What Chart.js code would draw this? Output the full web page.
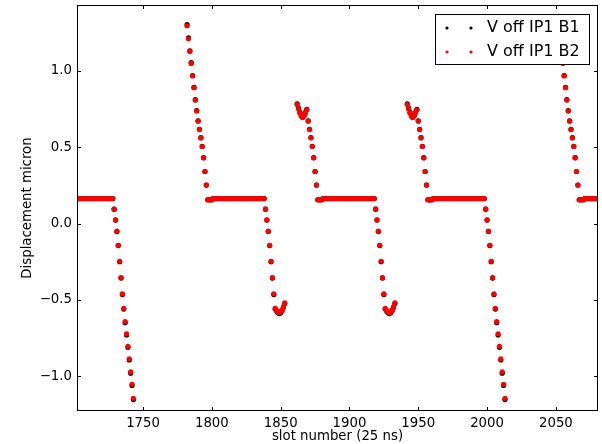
<!DOCTYPE html>
<html lang="en">

<head>
    <meta charset="UTF-8">
    <title>V offset IP1</title>
    <script src="https://cdn.jsdelivr.net/npm/chart.js"></script>
    <style>
        body {
            margin: 0;
            background: #fff;
        }
    </style>
</head>

<body>
    <canvas id="chart" width="602" height="444"></canvas>

    <script>
        // readings (micron) along the bunch trains
        const peakB2 = [1.296, 1.211, 1.128, 1.049, 0.967, 0.890, 0.809, 0.737, 0.671, 0.616, 0.562, 0.505, 0.431, 0.341, 0.252];
        const peakB1 = [1.303, 1.217, 1.132, 1.054, 0.970, 0.893, 0.812, 0.740, 0.673, 0.618, 0.563, 0.506, 0.432, 0.341, 0.252];
        const fallB2 = [0.094, 0.024, -0.050, -0.142, -0.247, -0.354, -0.461, -0.555, -0.643, -0.723, -0.804, -0.887, -0.972, -1.053, -1.145];
        const fallB1 = [0.094, 0.023, -0.052, -0.144, -0.250, -0.357, -0.465, -0.560, -0.649, -0.730, -0.811, -0.894, -0.980, -1.061, -1.153];
        const vHeadB2 = [0.780, 0.752, 0.725, 0.705, 0.695, 0.705, 0.725, 0.745];
        const vHeadB1 = [0.785, 0.756, 0.728, 0.707, 0.697, 0.708, 0.729, 0.749];
        const vTailB2 = [-0.568, -0.580, -0.585, -0.580, -0.566, -0.546, -0.520];
        const vTailB1 = [-0.573, -0.585, -0.590, -0.585, -0.571, -0.550, -0.524];
        const flatLevel = 0.164;
        const settleLevel = 0.156;
        const settleCount = 4;

        // filled slots
        const trainFirst = [1696, 1782, 1862, 1942, 2052];
        const trainLast = [1743, 1853, 1933, 2013, 2086];
        const trainHead = ['none', 'long', 'short', 'short', 'long'];
        const trainTail = ['long', 'short', 'short', 'long', 'none'];

        const xTicks = [1750, 1800, 1850, 1900, 1950, 2000, 2050];
        const yTicks = [-1.0, -0.5, 0.0, 0.5, 1.0];
        const yTickLabels = ['\u22121.0', '\u22120.5', '0.0', '0.5', '1.0'];
        const legendLabels = ['V off IP1 B1', 'V off IP1 B2'];
        const colors = ['#000000', '#ff0000'];

        function buildSeries(peak, vHead, fall, vTail) {
            const pts = [];
            trainFirst.forEach((first, t) => {
                const n = trainLast[t] - first + 1;
                let head = [];
                if (trainHead[t] === 'long') head = peak;
                if (trainHead[t] === 'short') head = vHead.concat(peak.slice(vHead.length));
                let tail = [];
                if (trainTail[t] === 'long') tail = fall;
                if (trainTail[t] === 'short') tail = fall.slice(0, fall.length - vTail.length).concat(vTail);
                const mid = [];
                for (let i = 0; i < n - head.length - tail.length; i++) {
                    mid.push(head.length && i < settleCount ? settleLevel : flatLevel);
                }
                head.concat(mid, tail).forEach((v, i) => pts.push({ x: first + i, y: v }));
            });
            return pts;
        }

        const frameTicks = {
            id: 'frameTicks',
            afterDatasetsDraw(chart) {
                const { ctx, chartArea: a, scales: { x, y } } = chart;
                ctx.save();
                ctx.strokeStyle = '#000';
                ctx.lineWidth = 1;
                ctx.beginPath();
                xTicks.forEach(v => {
                    const px = Math.round(x.getPixelForValue(v)) + 0.5;
                    ctx.moveTo(px, a.bottom); ctx.lineTo(px, a.bottom - 4);
                    ctx.moveTo(px, a.top); ctx.lineTo(px, a.top + 4);
                });
                yTicks.forEach(v => {
                    const py = Math.round(y.getPixelForValue(v)) + 0.5;
                    ctx.moveTo(a.left, py); ctx.lineTo(a.left + 4, py);
                    ctx.moveTo(a.right, py); ctx.lineTo(a.right - 4, py);
                });
                ctx.stroke();
                ctx.strokeRect(a.left + 0.5, a.top + 0.5, a.right - a.left - 1, a.bottom - a.top - 1);
                ctx.restore();
            }
        };

        const boxLegend = {
            id: 'boxLegend',
            afterDraw(chart) {
                const { ctx, chartArea: a } = chart;
                const w = 154, h = 50;
                const bx = a.right - 9 - w, by = a.top + 9;
                ctx.save();
                ctx.fillStyle = '#fff';
                ctx.fillRect(bx, by, w, h);
                ctx.strokeStyle = '#000';
                ctx.lineWidth = 1;
                ctx.strokeRect(bx + 0.5, by + 0.5, w, h);
                ctx.font = '16px "DejaVu Sans"';
                ctx.textBaseline = 'middle';
                legendLabels.forEach((txt, i) => {
                    const ry = by + 14 + i * 24;
                    ctx.fillStyle = colors[i];
                    [12, 36].forEach(dx => {
                        ctx.beginPath();
                        ctx.arc(bx + dx, ry, 1.6, 0, Math.PI * 2);
                        ctx.fill();
                    });
                    ctx.fillStyle = '#000';
                    ctx.fillText(txt, bx + 52, ry);
                });
                ctx.restore();
            }
        };

        Chart.defaults.font.family = '"DejaVu Sans"';
        Chart.defaults.font.size = 13.3;
        Chart.defaults.color = '#000';

        new Chart(document.getElementById('chart'), {
            type: 'scatter',
            data: {
                datasets: [{
                    label: legendLabels[0],
                    data: buildSeries(peakB1, vHeadB1, fallB1, vTailB1),
                    backgroundColor: colors[0],
                    pointRadius: 2.6,
                    borderWidth: 0,
                    order: 1
                }, {
                    label: legendLabels[1],
                    data: buildSeries(peakB2, vHeadB2, fallB2, vTailB2),
                    backgroundColor: colors[1],
                    pointRadius: 2.6,
                    borderWidth: 0,
                    order: 0
                }]
            },
            options: {
                responsive: false,
                animation: false,
                devicePixelRatio: 1,
                layout: { padding: { top: 5, right: 2, left: 0, bottom: 0 } },
                scales: {
                    x: {
                        min: 1702,
                        max: 2080.6,
                        grid: { display: false, drawTicks: false },
                        border: { display: false },
                        afterBuildTicks: s => { s.ticks = xTicks.map(v => ({ value: v })); },
                        afterFit: s => { s.height = 33; s.paddingLeft = 0; s.paddingRight = 0; },
                        ticks: { padding: 5, maxRotation: 0, callback: v => String(v) },
                        title: { display: true, text: 'slot number (25 ns)', padding: { top: 0, bottom: -1 } }
                    },
                    y: {
                        min: -1.228,
                        max: 1.432,
                        grid: { display: false, drawTicks: false },
                        border: { display: false },
                        afterBuildTicks: s => { s.ticks = yTicks.map(v => ({ value: v })); },
                        afterFit: s => { s.width = 77; s.paddingTop = 0; s.paddingBottom = 0; },
                        ticks: { padding: 5, callback: v => yTickLabels[yTicks.indexOf(v)] },
                        title: { display: true, text: 'Displacement micron', padding: { top: 19.5, bottom: 0 } }
                    }
                },
                plugins: {
                    legend: { display: false },
                    tooltip: { enabled: false }
                }
            },
            plugins: [frameTicks, boxLegend]
        });
    </script>

</body>

</html>
